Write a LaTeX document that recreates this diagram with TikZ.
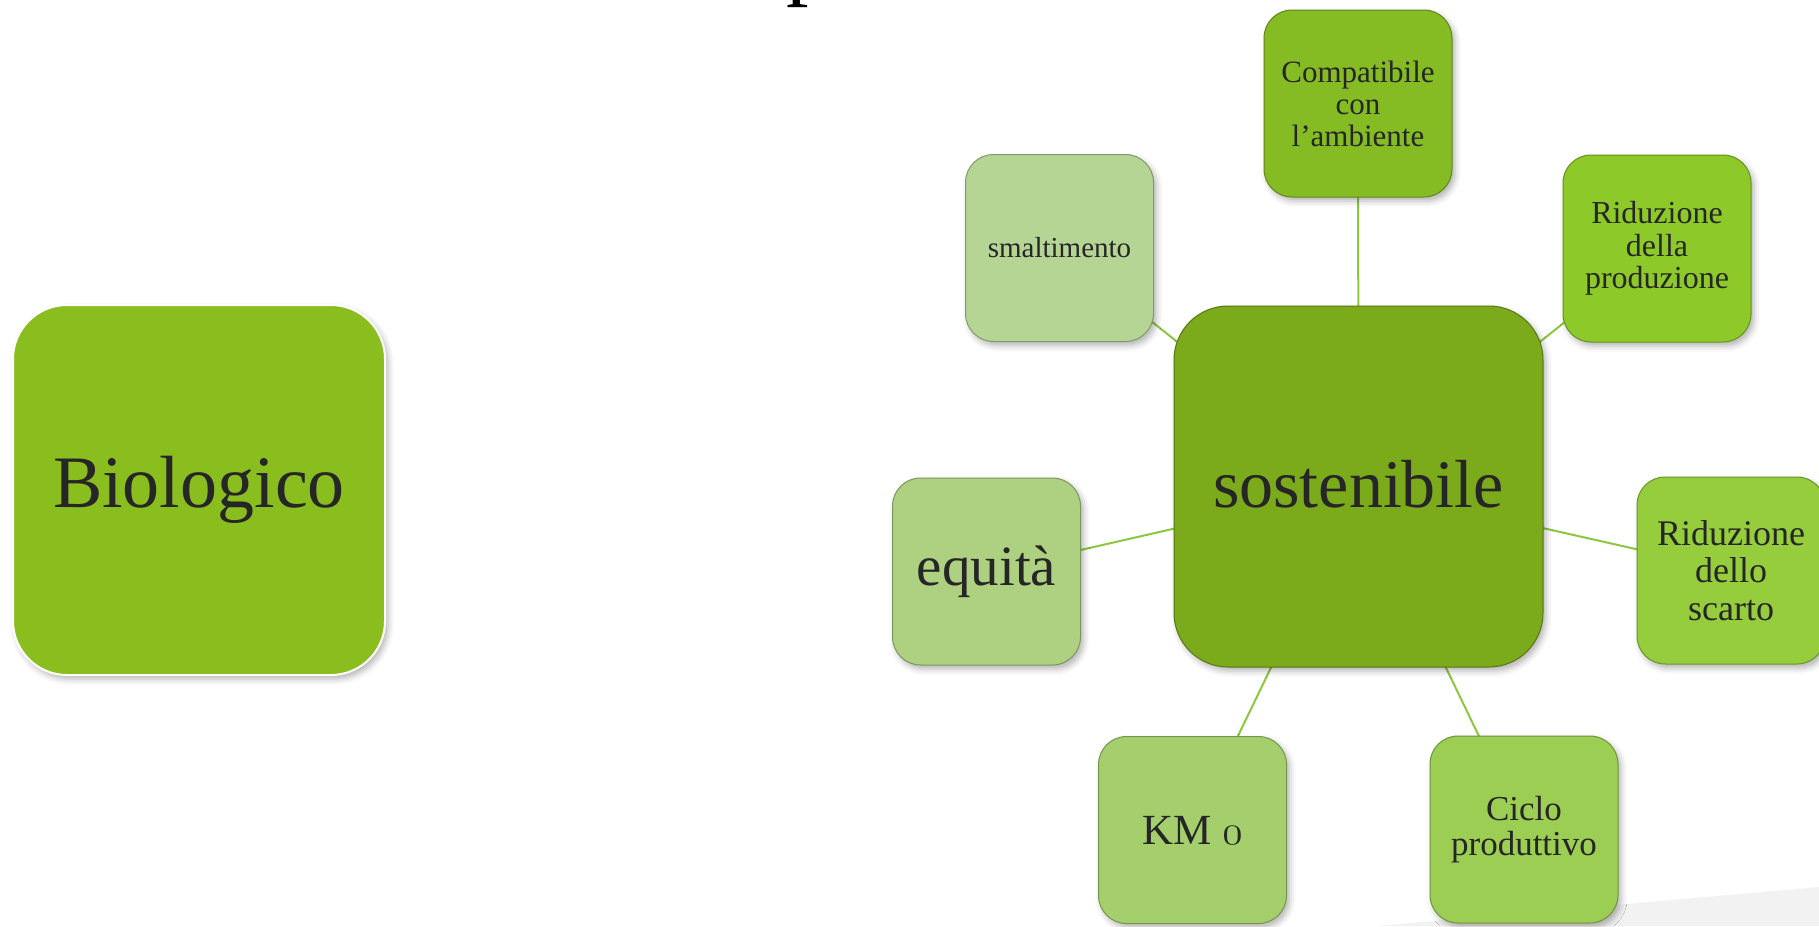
\documentclass[tikz,border=0pt]{standalone}
\usepackage{fontspec}
\setmainfont{Liberation Serif}
\usetikzlibrary{shadows.blur}
\pgfdeclarelayer{background}
\pgfsetlayers{background,main}

% fills, from darkest to lightest green
\definecolor{cBio}{HTML}{8ABE1E}
\definecolor{cSost}{HTML}{7BAA1A}
\definecolor{cComp}{HTML}{85BB23}
\definecolor{cRprod}{HTML}{8DC929}
\definecolor{cRscarto}{HTML}{95CD3C}
\definecolor{cCiclo}{HTML}{9CCE54}
\definecolor{cKm}{HTML}{A4CF6C}
\definecolor{cEquita}{HTML}{ADD180}
\definecolor{cSmalt}{HTML}{B4D594}
\definecolor{cLink}{HTML}{8DC63F}
\definecolor{cInk}{HTML}{262626}
\definecolor{cWedge}{HTML}{F2F2F2}

\newcommand{\fs}[2]{\fontsize{#1}{#2}\selectfont}

\begin{document}
\begin{tikzpicture}[
  x=0.5pt, y=-0.5pt,
  softshadow/.style={blur shadow={shadow xshift=1.5pt, shadow yshift=-2pt,
      shadow blur radius=3pt, shadow opacity=30}},
  tile/.style={rectangle, rounded corners=14pt, minimum width=94pt,
      minimum height=93.5pt, inner sep=2pt, align=center, text=cInk,
      fill=#1, draw=#1!72!black, line width=0.5pt, softshadow},
  bigtile/.style={rectangle, rounded corners=27pt, align=center, text=cInk,
      inner sep=2pt, fill=#1, softshadow},
  link/.style={draw=cLink, line width=1pt}
]
\useasboundingbox (0,0) rectangle (1819,926);
\clip (0,0) rectangle (1819,926);

% light grey wedge in the lower right corner
\fill[cWedge] (1377,926) -- (1819,887) -- (1819,926) -- cycle;

% title line above the frame: only the descender shows
\node[anchor=base west, inner sep=0pt, text=black, font=\fs{45}{54}]
  (title) at (786,-11.6) {p};

% left tile
\node[bigtile=cBio, draw=white, line width=1pt,
      minimum width=186pt, minimum height=185pt, font=\fs{37}{44}]
  (bio) at (199,490) {Biologico};

% central tile
\node[bigtile=cSost, draw=cSost!70!black, line width=0.5pt,
      minimum width=184.5pt, minimum height=180.5pt, font=\fs{34}{40}]
  (sost) at (1358.5,486.5) {\raisebox{3pt}{sostenibile}};

% surrounding tiles
\node[tile=cComp, font=\fs{15.5}{16}] (comp) at (1358,103.5)
  {Compatibile\\con\\l’ambiente};
\node[tile=cRprod, font=\fs{16}{16.3}] (rprod) at (1657,248.5)
  {Riduzione\\della\\produzione};
\node[tile=cRscarto, font=\fs{18}{18.8}] (rscarto) at (1731,570.5)
  {Riduzione\\dello\\scarto};
\node[tile=cCiclo, font=\fs{17.5}{17.5}] (ciclo) at (1524,829.5)
  {Ciclo\\produttivo};
\node[tile=cKm, font=\fs{21.5}{24}] (km) at (1192.5,830)
  {KM {\usefont{OML}{cmm}{m}{it}0}};
\node[tile=cEquita, font=\fs{28.5}{32}] (equita) at (986.5,571.5)
  {equità};
\node[tile=cSmalt, font=\fs{14.5}{16}] (smalt) at (1059.5,248)
  {smaltimento};

% spokes from the centre, kept behind the tiles
\begin{pgfonlayer}{background}
  \foreach \t in {comp,rprod,rscarto,ciclo,km,equita,smalt}
    \draw[link] (sost.center) -- (\t.center);
\end{pgfonlayer}
\end{tikzpicture}
\end{document}
